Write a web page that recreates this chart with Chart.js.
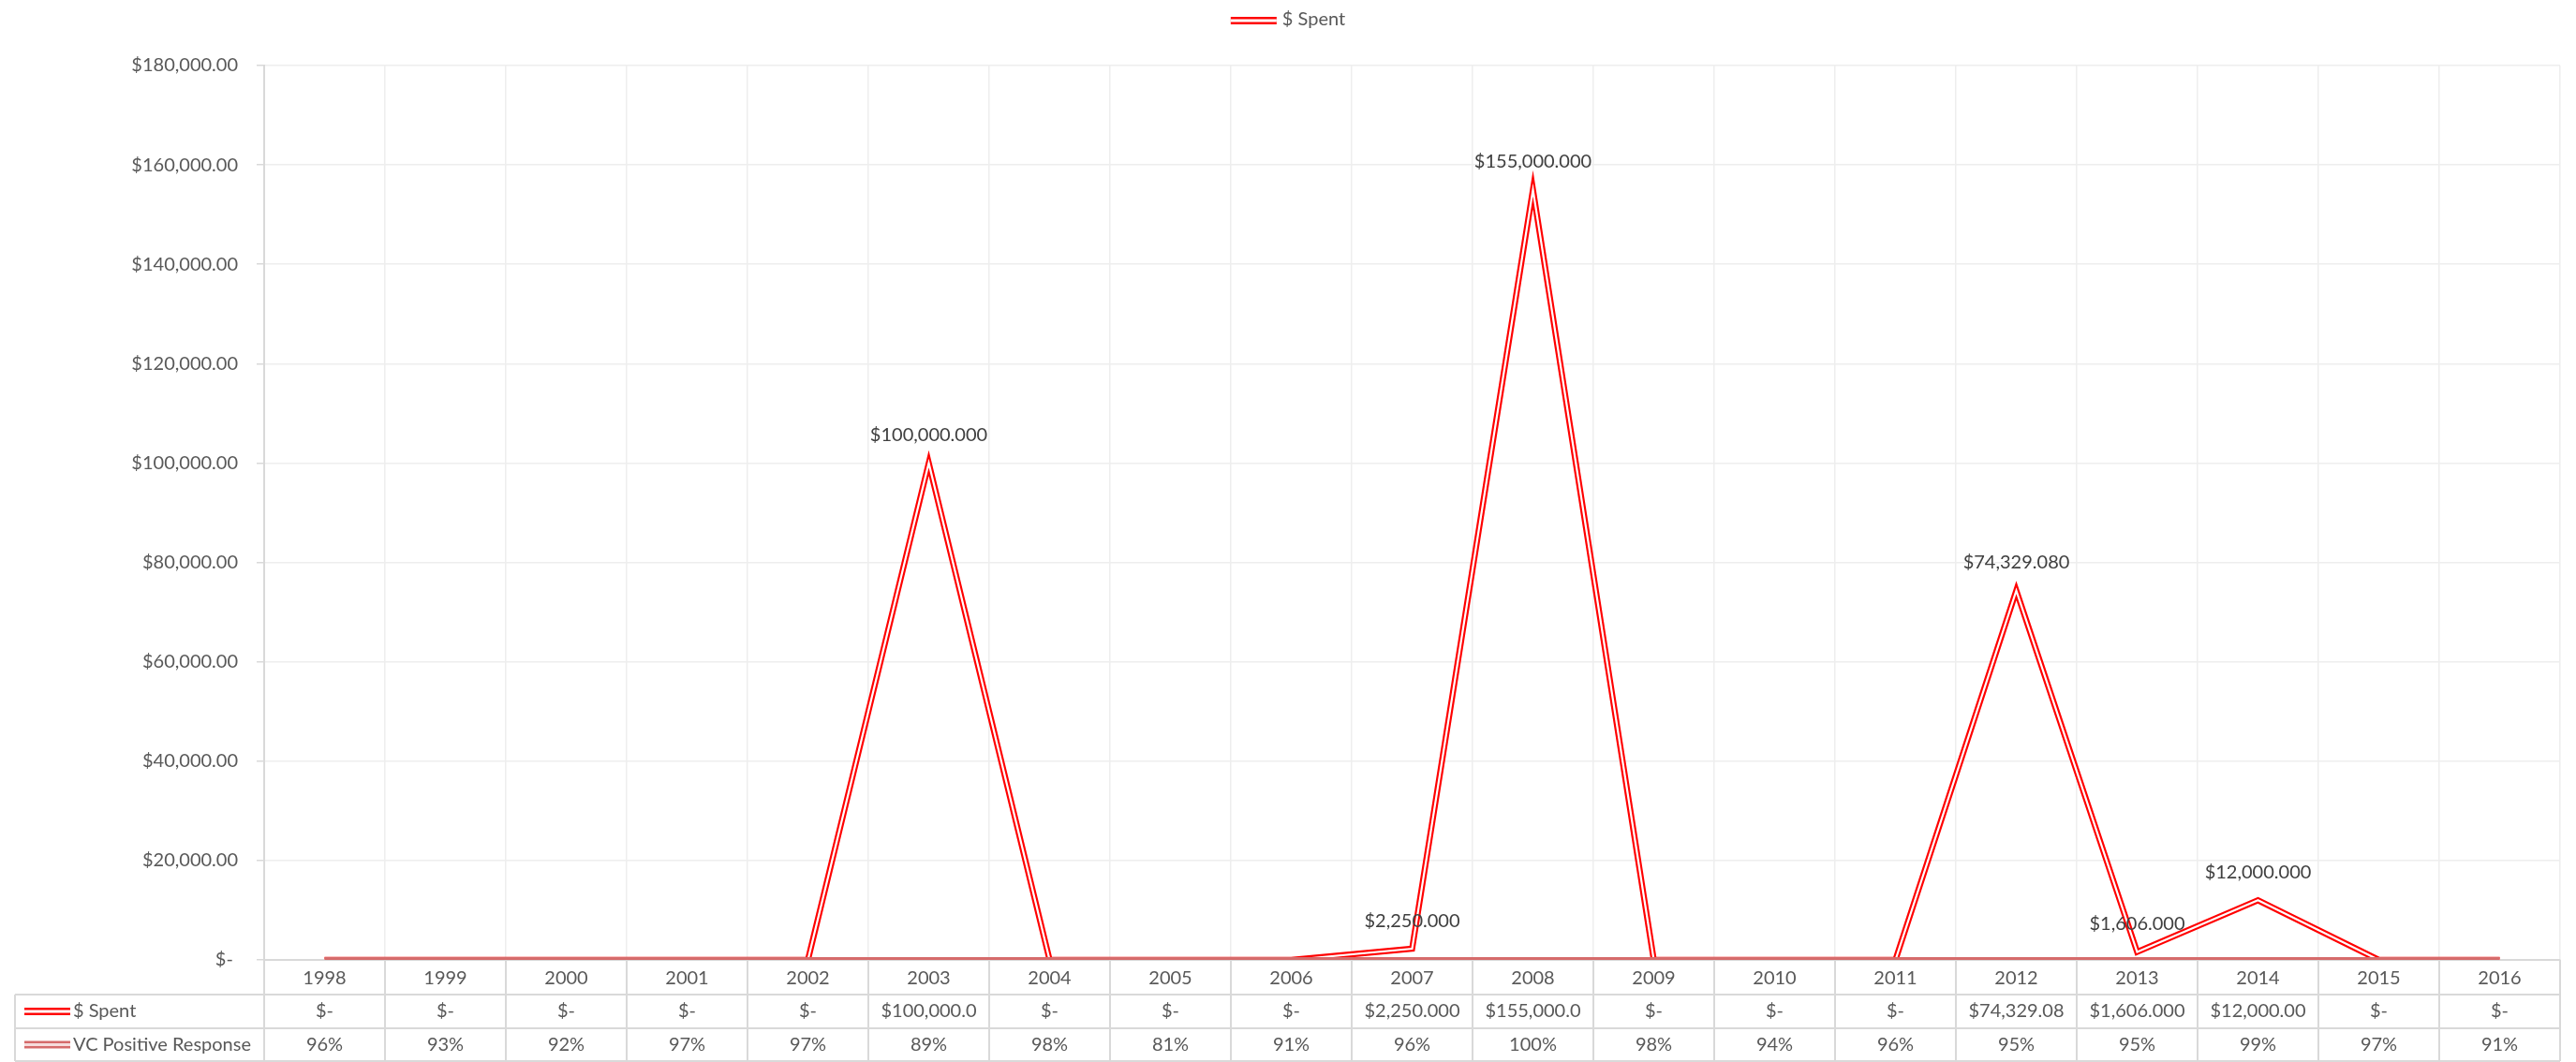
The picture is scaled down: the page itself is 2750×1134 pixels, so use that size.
<!DOCTYPE html>
<html>
<head>
<meta charset="utf-8">
<title>$ Spent</title>
<script src="https://cdn.jsdelivr.net/npm/chart.js@4.4.1/dist/chart.umd.min.js"></script>
<style>
  html, body { margin: 0; padding: 0; background: #ffffff; }
  #wrap { width: 2750px; height: 1134px; }
  canvas { display: block; }
</style>
</head>
<body>
<div id="wrap"><canvas id="chart" width="2750" height="1134"></canvas></div>
<script>
// ---- data ----
const years = ['1998', '1999', '2000', '2001', '2002', '2003', '2004', '2005', '2006', '2007',
               '2008', '2009', '2010', '2011', '2012', '2013', '2014', '2015', '2016'];
const spent = [0, 0, 0, 0, 0, 100000, 0, 0, 0, 2250,
               155000, 0, 0, 0, 74329.08, 1606, 12000, 0, 0];
const vcPositive = [96, 93, 92, 97, 97, 89, 98, 81, 91, 96,
                    100, 98, 94, 96, 95, 95, 99, 97, 91];
const yTicks = [0, 20000, 40000, 60000, 80000, 100000, 120000, 140000, 160000, 180000];
const seriesNames = ['$ Spent', 'VC Positive Response'];

// ---- styling ----
const FONT = 'Lato, "Open Sans", "Liberation Sans", sans-serif';
const TEXT = '#595959';
const LABEL = '#404040';
const RED = '#ff0000';
const VC_RED = '#d56b6b';
const TABLE_LINE = '#d9d9d9';
const GRID = '#eeeeee';

const money = (v, d) => '$' + v.toLocaleString('en-US', { minimumFractionDigits: d, maximumFractionDigits: d });
// table cells are narrow: the money text is cut to 10 characters
const spentCell = v => v === 0 ? '$-' : money(v, 3).slice(0, 10);
const vcCell = v => v + '%';

// double line key: red outer stroke with a white core
function drawDoubleKey(ctx, x0, x1, y, color, core) {
  ctx.save();
  ctx.lineCap = 'butt';
  ctx.strokeStyle = color;
  ctx.lineWidth = 8;
  ctx.beginPath(); ctx.moveTo(x0, y); ctx.lineTo(x1, y); ctx.stroke();
  ctx.strokeStyle = core;
  ctx.lineWidth = 3;
  ctx.beginPath(); ctx.moveTo(x0, y); ctx.lineTo(x1, y); ctx.stroke();
  ctx.restore();
}

// value labels above the non-zero $ Spent points
const valueLabels = {
  id: 'valueLabels',
  afterDatasetsDraw(chart) {
    const ctx = chart.ctx;
    const meta = chart.getDatasetMeta(2);
    ctx.save();
    ctx.font = '20px ' + FONT;
    ctx.fillStyle = LABEL;
    ctx.textAlign = 'center';
    ctx.textBaseline = 'middle';
    meta.data.forEach((pt, i) => {
      if (spent[i] > 0) ctx.fillText(money(spent[i], 3), pt.x, pt.y - 30);
    });
    ctx.restore();
  }
};

// legend at the top and the data table under the plot
const legendAndTable = {
  id: 'legendAndTable',
  afterDraw(chart) {
    const ctx = chart.ctx;
    const xs = chart.scales.x;
    const area = chart.chartArea;
    ctx.save();
    ctx.font = '20px ' + FONT;

    // top legend
    const keyW = 49, gap = 6;
    const tw = ctx.measureText(seriesNames[0]).width;
    const lx = (chart.width - (keyW + gap + tw)) / 2;
    drawDoubleKey(ctx, lx, lx + keyW, 22, RED, '#ffffff');
    ctx.fillStyle = TEXT;
    ctx.textAlign = 'left';
    ctx.textBaseline = 'middle';
    ctx.fillText(seriesNames[0], lx + keyW + gap, 21);

    // data table geometry
    const step = xs.getPixelForValue(1) - xs.getPixelForValue(0);
    const edges = years.map((_, i) => xs.getPixelForValue(i) - step / 2);
    edges.push(xs.getPixelForValue(years.length - 1) + step / 2);
    const tLeft = 16;
    const r0 = area.bottom, r1 = area.bottom + 37, r2 = area.bottom + 73, r3 = chart.height - 1;

    ctx.strokeStyle = TABLE_LINE;
    ctx.lineWidth = 2;
    ctx.beginPath();
    [r1, r2, r3].forEach(y => { ctx.moveTo(tLeft, y); ctx.lineTo(edges[edges.length - 1], y); });
    edges.forEach(x => { ctx.moveTo(x, r0); ctx.lineTo(x, r3); });
    ctx.moveTo(tLeft, r1); ctx.lineTo(tLeft, r3);
    ctx.stroke();

    // cell text
    ctx.fillStyle = TEXT;
    ctx.textAlign = 'center';
    ctx.textBaseline = 'middle';
    years.forEach((yr, i) => {
      const cx = xs.getPixelForValue(i);
      ctx.fillText(yr, cx, (r0 + r1) / 2 + 1);
      ctx.fillText(spentCell(spent[i]), cx, (r1 + r2) / 2);
      ctx.fillText(vcCell(vcPositive[i]), cx, (r2 + r3) / 2);
    });

    // row headers with line keys
    drawDoubleKey(ctx, 26, 75, (r1 + r2) / 2, RED, '#ffffff');
    drawDoubleKey(ctx, 26, 75, (r2 + r3) / 2, VC_RED, '#f6dcdc');
    ctx.fillStyle = TEXT;
    ctx.textAlign = 'left';
    ctx.fillText(seriesNames[0], 78, (r1 + r2) / 2);
    ctx.fillText(seriesNames[1], 78, (r2 + r3) / 2);
    ctx.restore();
  }
};

new Chart(document.getElementById('chart'), {
  type: 'line',
  data: {
    labels: years,
    datasets: [
      {
        label: seriesNames[1],
        data: vcPositive.map(v => v / 100),
        borderColor: VC_RED,
        borderWidth: 6,
        pointRadius: 0,
        clip: 0,
        order: 0
      },
      {
        label: seriesNames[0] + ' core',
        data: spent,
        borderColor: '#ffffff',
        borderWidth: 2.2,
        pointRadius: 0,
        clip: 0,
        order: 1
      },
      {
        label: seriesNames[0],
        data: spent,
        borderColor: RED,
        borderWidth: 6.5,
        pointRadius: 0,
        clip: 0,
        order: 2
      }
    ]
  },
  options: {
    responsive: false,
    animation: false,
    devicePixelRatio: 1,
    layout: { padding: { left: 0, top: 70, right: 17, bottom: 109 } },
    plugins: {
      legend: { display: false },
      tooltip: { enabled: false },
      title: { display: false }
    },
    elements: { line: { tension: 0, borderJoinStyle: 'miter', borderCapStyle: 'butt' } },
    scales: {
      x: {
        type: 'category',
        offset: true,
        grid: { offset: true, color: GRID, lineWidth: 1.5, drawTicks: false },
        border: { display: true, color: TABLE_LINE, width: 2 },
        ticks: { display: false },
        afterFit: s => { s.height = 0; }
      },
      y: {
        min: 0,
        max: 180000,
        afterBuildTicks: s => { s.ticks = yTicks.map(v => ({ value: v })); },
        grid: { color: GRID, lineWidth: 1.5, tickColor: TABLE_LINE, tickLength: 8 },
        border: { display: true, color: TABLE_LINE, width: 2 },
        ticks: {
          color: TEXT,
          padding: 20,
          font: { family: FONT, size: 20 },
          callback: v => v === 0 ? '$- ' : money(v, 2)
        },
        afterFit: s => { s.width = 282; }
      }
    }
  },
  plugins: [valueLabels, legendAndTable]
});
</script>
</body>
</html>
